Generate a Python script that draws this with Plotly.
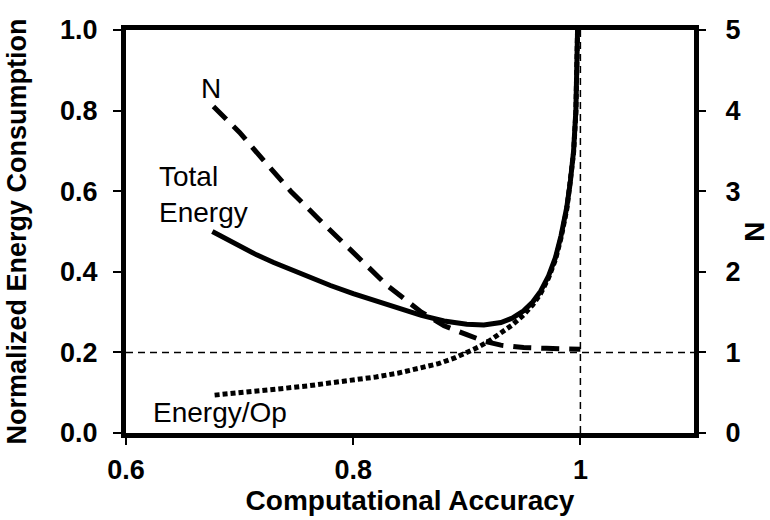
import plotly.graph_objects as go

# Data
acc_total = [0.676, 0.69, 0.70, 0.715, 0.73, 0.745, 0.76, 0.78, 0.80, 0.82, 0.84, 0.86, 0.88,
             0.90, 0.915, 0.93, 0.94, 0.95, 0.958, 0.965, 0.972, 0.978, 0.983, 0.988,
             0.991, 0.994, 0.996, 0.9975]
total_energy = [0.50, 0.478, 0.463, 0.442, 0.423, 0.405, 0.388, 0.366, 0.346, 0.327, 0.309,
                0.292, 0.278, 0.270, 0.268, 0.274, 0.285, 0.303, 0.325, 0.352, 0.39,
                0.435, 0.49, 0.56, 0.62, 0.70, 0.80, 1.0]

acc_op = [0.678, 0.70, 0.72, 0.74, 0.76, 0.78, 0.80, 0.82, 0.84, 0.86, 0.875, 0.89, 0.90,
          0.91, 0.92, 0.93, 0.94, 0.95, 0.958, 0.965, 0.972, 0.978, 0.983, 0.988,
          0.991, 0.994, 0.996, 0.9975]
energy_per_op = [0.094, 0.099, 0.105, 0.111, 0.117, 0.124, 0.131, 0.139, 0.149, 0.161,
                 0.172, 0.187, 0.199, 0.213, 0.229, 0.247, 0.268, 0.293, 0.318, 0.346,
                 0.385, 0.43, 0.485, 0.555, 0.615, 0.695, 0.795, 1.0]

acc_n = [0.677, 0.70, 0.72, 0.745, 0.77, 0.80, 0.83, 0.86, 0.88, 0.90, 0.915, 0.93, 0.95, 0.97, 1.0]
n_values = [4.05, 3.73, 3.40, 3.00, 2.65, 2.23, 1.83, 1.50, 1.33, 1.22, 1.14, 1.09, 1.06, 1.05, 1.04]

ref_h_x = [0.6, 1.1]
ref_h_y = [0.2, 0.2]
ref_v_x = [1.0, 1.0]
ref_v_y = [0.0, 1.0]

x_tickvals = [0.6, 0.8, 1.0]
x_ticktext = ["0.6", "0.8", "1"]

FONT = "Liberation Sans, Arial, sans-serif"

fig = go.Figure()

fig.add_trace(go.Scatter(x=ref_h_x, y=ref_h_y, mode="lines",
                         line=dict(color="black", width=1.5, dash="7px,5px"), hoverinfo="skip"))
fig.add_trace(go.Scatter(x=ref_v_x, y=ref_v_y, mode="lines",
                         line=dict(color="black", width=1.5, dash="7px,5px"), hoverinfo="skip"))
fig.add_trace(go.Scatter(x=acc_op, y=energy_per_op, mode="lines", name="Energy/Op",
                         line=dict(color="black", width=5, dash="5px,3px")))
fig.add_trace(go.Scatter(x=acc_total, y=total_energy, mode="lines", name="Total Energy",
                         line=dict(color="black", width=5)))
fig.add_trace(go.Scatter(x=acc_n, y=n_values, mode="lines", name="N", yaxis="y2",
                         line=dict(color="black", width=5, dash="18px,10px")))

tickfont = dict(family=FONT, size=27, weight="bold", color="black")
titlefont = dict(family=FONT, size=28, weight="bold", color="black")
ytitlefont = dict(family=FONT, size=27, weight="bold", color="black")
annfont = dict(family=FONT, size=28, color="black")

fig.update_layout(
    width=770, height=520,
    margin=dict(l=126, r=76, t=30, b=87),
    paper_bgcolor="white", plot_bgcolor="white",
    showlegend=False,
    font=dict(family=FONT, color="black"),
    xaxis=dict(
        range=[0.6, 1.1], tickvals=x_tickvals, ticktext=x_ticktext,
        showgrid=False, zeroline=False, automargin=False,
        showline=True, linewidth=5, linecolor="black", mirror=True,
        ticks="outside", ticklen=7, tickwidth=2, tickcolor="black",
        tickfont=tickfont, ticklabelstandoff=2,
        title=dict(text="Computational Accuracy", font=titlefont, standoff=4),
    ),
    yaxis=dict(
        range=[0, 1], dtick=0.2, tickformat=".1f",
        showgrid=False, zeroline=False, automargin=False,
        showline=True, linewidth=5, linecolor="black", mirror=True,
        ticks="outside", ticklen=8, tickwidth=2, tickcolor="black",
        tickfont=tickfont, ticklabelstandoff=10,
        title=dict(text="Normalized Energy Consumption", font=ytitlefont, standoff=27),
    ),
    yaxis2=dict(
        range=[0, 5], dtick=1, overlaying="y", side="right",
        showgrid=False, zeroline=False, automargin=False,
        showline=True, linewidth=5, linecolor="black",
        ticks="outside", ticklen=7, tickwidth=2, tickcolor="black",
        tickfont=tickfont, ticklabelstandoff=14,
        title=dict(text="N", font=titlefont, standoff=26),
    ),
    annotations=[
        dict(x=0.675, y=0.856, xref="x", yref="y", text="N", showarrow=False, font=annfont),
        dict(x=0.627, y=0.593, xref="x", yref="y", text="Total<br>Energy", showarrow=False,
             xanchor="left", align="left", font=annfont),
        dict(x=0.622, y=0.052, xref="x", yref="y", text="Energy/Op", showarrow=False,
             xanchor="left", font=annfont),
    ],
)

fig.write_html("out.html")
